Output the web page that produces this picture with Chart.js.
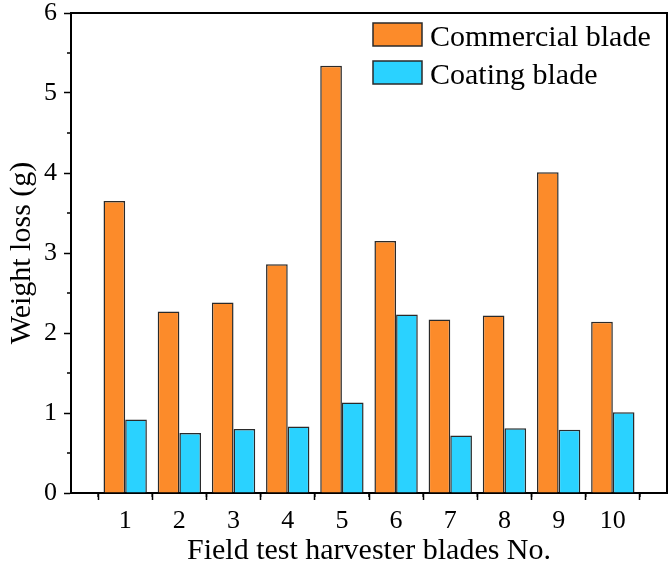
<!DOCTYPE html>
<html>
<head>
<meta charset="utf-8">
<script src="https://cdn.jsdelivr.net/npm/chart.js@4"></script>
<style>
  body { margin: 0; background: #fff; }
  #wrap { width: 670px; height: 566px; }
</style>
</head>
<body>
<div id="wrap"><canvas id="myChart"></canvas></div>
<script>
// blade numbers and weight loss (g)
const blades = [1, 2, 3, 4, 5, 6, 7, 8, 9, 10];
const commercial = [3.65, 2.27, 2.38, 2.86, 5.34, 3.15, 2.17, 2.22, 4.01, 2.14];
const coating = [0.92, 0.75, 0.80, 0.83, 1.13, 2.23, 0.72, 0.81, 0.79, 1.01];
const seriesNames = ['Commercial blade', 'Coating blade'];
const yTicks = [0, 1, 2, 3, 4, 5, 6];

const serif = "'Liberation Serif', 'Times New Roman', serif";
Chart.defaults.font.family = serif;
Chart.defaults.color = '#000';

// frame, minor ticks and legend box like Origin
const extras = {
  id: 'extras',
  afterDraw(chart) {
    const { ctx, chartArea: a } = chart;
    const xs = chart.scales.x, ys = chart.scales.y;
    ctx.save();
    ctx.strokeStyle = '#000';
    ctx.lineWidth = 2;
    ctx.beginPath();
    ctx.moveTo(a.left, a.top);
    ctx.lineTo(a.right, a.top);
    ctx.lineTo(a.right, a.bottom);
    ctx.stroke();
    // minor ticks
    ctx.lineWidth = 1.5;
    ctx.beginPath();
    for (let v = 0.5; v < 11; v += 1) {
      const px = xs.getPixelForValue(v);
      ctx.moveTo(px, a.bottom);
      ctx.lineTo(px, a.bottom + 4);
    }
    for (let v = 0.5; v < 6; v += 1) {
      const py = ys.getPixelForValue(v);
      ctx.moveTo(a.left, py);
      ctx.lineTo(a.left - 4, py);
    }
    ctx.stroke();
    // legend
    ctx.font = '30px ' + serif;
    ctx.textBaseline = 'alphabetic';
    ctx.textAlign = 'left';
    chart.data.datasets.forEach((ds, i) => {
      const x = a.right - 294;
      const y = a.top + 10 + i * 38;
      ctx.fillStyle = ds.backgroundColor;
      ctx.fillRect(x, y, 49, 23);
      ctx.strokeStyle = '#2a2a2a';
      ctx.lineWidth = 1.5;
      ctx.strokeRect(x, y, 49, 23);
      ctx.fillStyle = '#000';
      ctx.fillText(ds.label, x + 57, y + 23);
    });
    ctx.restore();
  }
};

const ctx = document.getElementById('myChart').getContext('2d');
const myChart = new Chart(ctx, {
  type: 'bar',
  data: {
    datasets: [{
      label: seriesNames[0],
      data: blades.map((b, i) => ({ x: b, y: commercial[i] })),
      backgroundColor: 'rgb(252, 139, 42)',
      borderColor: '#2a2a2a',
      borderWidth: 1.5
    }, {
      label: seriesNames[1],
      data: blades.map((b, i) => ({ x: b, y: coating[i] })),
      backgroundColor: 'rgb(42, 210, 255)',
      borderColor: '#2a2a2a',
      borderWidth: 1.5
    }]
  },
  options: {
    responsive: true,
    maintainAspectRatio: false,
    animation: false,
    layout: { padding: { top: 13, right: 3, left: 0, bottom: 0 } },
    categoryPercentage: 0.8,
    barPercentage: 1.0,
    plugins: {
      legend: { display: false },
      tooltip: { enabled: false }
    },
    scales: {
      x: {
        type: 'linear',
        min: 0,
        max: 11,
        offset: false,
        afterFit: s => { s.height = 73; s.paddingLeft = 0; s.paddingRight = 0; },
        ticks: {
          stepSize: 1,
          padding: 6,
          font: { size: 26 },
          callback: v => (v >= 1 && v <= 10) ? String(v) : ''
        },
        grid: { drawOnChartArea: false, drawTicks: true, tickLength: 7, tickColor: '#000', tickWidth: 1.5 },
        border: { display: true, color: '#000', width: 2 },
        title: { display: true, text: 'Field test harvester blades No.', font: { size: 30, lineHeight: 1 }, padding: { top: 0, bottom: 0 } }
      },
      y: {
        min: 0,
        max: 6,
        afterFit: s => { s.width = 71; s.paddingTop = 0; s.paddingBottom = 0; },
        afterBuildTicks: s => { s.ticks = yTicks.map(v => ({ value: v })); },
        ticks: { padding: 7, font: { size: 26 } },
        grid: { drawOnChartArea: false, drawTicks: true, tickLength: 7, tickColor: '#000', tickWidth: 1.5 },
        border: { display: true, color: '#000', width: 2 },
        title: { display: true, text: 'Weight loss (g)', font: { size: 30, lineHeight: 1 }, padding: { top: 7, bottom: 0 } }
      }
    }
  },
  plugins: [extras]
});
</script>
</body>
</html>
